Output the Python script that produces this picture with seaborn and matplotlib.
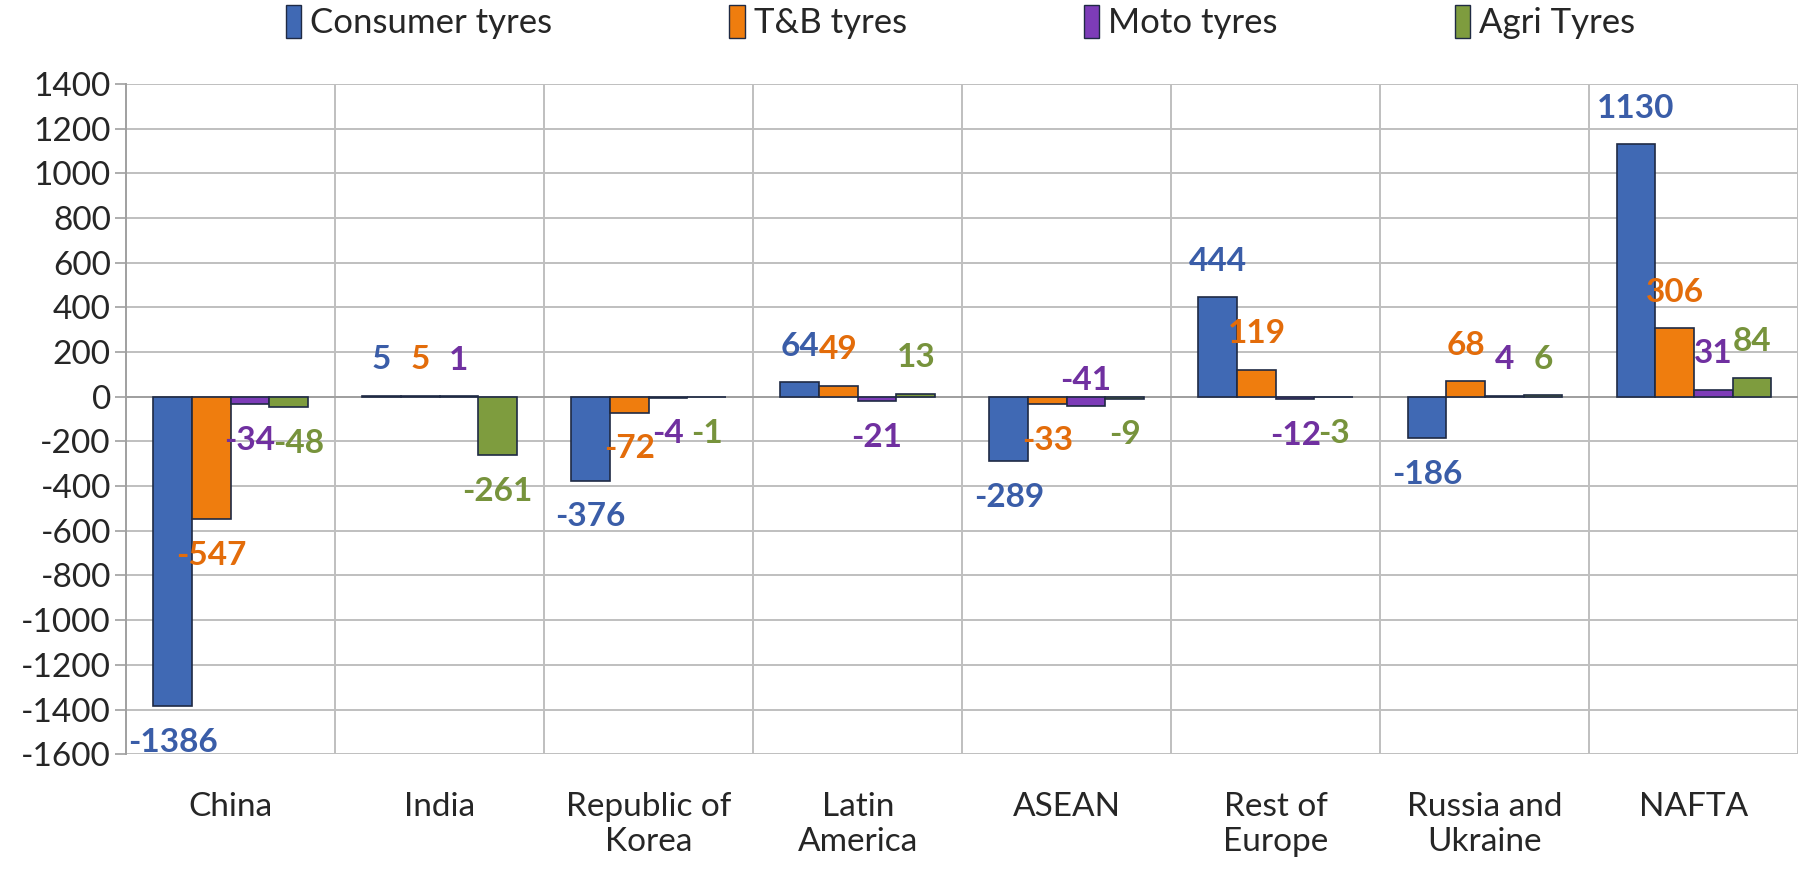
import pandas as pd
import seaborn as sns
import matplotlib.pyplot as plt
from matplotlib.patches import Patch

# Data
regions = ["China", "India", "Republic of\nKorea", "Latin\nAmerica", "ASEAN",
           "Rest of\nEurope", "Russia and\nUkraine", "NAFTA"]
series = ["Consumer tyres", "T&B tyres", "Moto tyres", "Agri Tyres"]
consumer = [-1386, 5, -376, 64, -289, 444, -186, 1130]
tb = [-547, 5, -72, 49, -33, 119, 68, 306]
moto = [-34, 1, -4, -21, -41, -12, 4, 31]
agri = [-48, -261, -1, 13, -9, -3, 6, 84]
yticks = list(range(-1600, 1401, 200))

bar_colors = ["#4069B4", "#EF7D0E", "#7D3CB8", "#7E9C3E"]
label_colors = ["#3A5DA8", "#E36C0A", "#7030A0", "#77933C"]

df = pd.DataFrame({
    "Region": regions * 4,
    "Type": [s for s in series for _ in regions],
    "Value": consumer + tb + moto + agri,
})

sns.set_style("white")
plt.rcParams["font.family"] = ["Lato", "DejaVu Sans"]
plt.rcParams["axes.unicode_minus"] = False

fig = plt.figure(figsize=(18.02, 8.73), dpi=100)
ax = fig.add_axes([0.070, 0.136, 0.928, 0.768])

sns.barplot(data=df, x="Region", y="Value", hue="Type", palette=bar_colors,
            width=0.74, gap=0, edgecolor="#1F2A44", linewidth=1.2,
            saturation=1, ax=ax, legend=False, zorder=3)

# value labels, placed outside the bar end (a couple nudged as in the source)
for cont, col, vals, name in zip(ax.containers, label_colors,
                                 [consumer, tb, moto, agri], series):
    for bar, v, reg in zip(cont, vals, regions):
        xc = bar.get_x() + bar.get_width() / 2
        dx = 0
        off = 26 if v >= 0 else -26
        if reg == "ASEAN" and name == "Moto tyres":
            off = 12
        if reg == "China" and name == "Agri Tyres":
            dx = 7
        ax.annotate(str(v), (xc, v if off < 0 or v > 0 else 0), xytext=(dx, off),
                    textcoords="offset points", ha="center", va="center",
                    fontsize=24, fontweight="bold", color=col, zorder=5)

ax.set_ylim(-1600, 1400)
ax.set_xlim(-0.5, len(regions) - 0.5)
ax.set_yticks(yticks)
ax.set_yticklabels([str(t) for t in yticks], fontsize=24)
ax.set_xticks(range(len(regions)))
ax.set_xticklabels(regions, fontsize=24)
ax.tick_params(axis="x", length=0, pad=27)
ax.tick_params(axis="y", length=8, color="#A0A0A0", width=1.2, direction="out",
               left=True, pad=3)
ax.set_xlabel("")
ax.set_ylabel("")

# gridlines
ax.set_xticks([i + 0.5 for i in range(len(regions))], minor=True)
ax.grid(axis="y", color="#BFBFBF", linewidth=1.4, zorder=0)
ax.grid(axis="x", which="minor", color="#BFBFBF", linewidth=1.4, zorder=0)
ax.grid(axis="x", which="major", visible=False)
ax.tick_params(axis="x", which="minor", length=0)
ax.axhline(0, color="#A0A0A0", linewidth=1.4, zorder=2)
for side in ["top", "right", "bottom"]:
    ax.spines[side].set_visible(False)
ax.spines["left"].set_color("#A0A0A0")
ax.spines["left"].set_linewidth(1.4)

handles = [Patch(facecolor=c, edgecolor="#1F2A44", linewidth=1) for c in bar_colors]
fig.legend(handles, series, loc="center", bbox_to_anchor=(0.533, 0.975), ncol=4,
           frameon=False, fontsize=25, handlelength=0.45, handleheight=1.1,
           handletextpad=0.25, columnspacing=5.1)

plt.savefig("out.png", dpi=100)
